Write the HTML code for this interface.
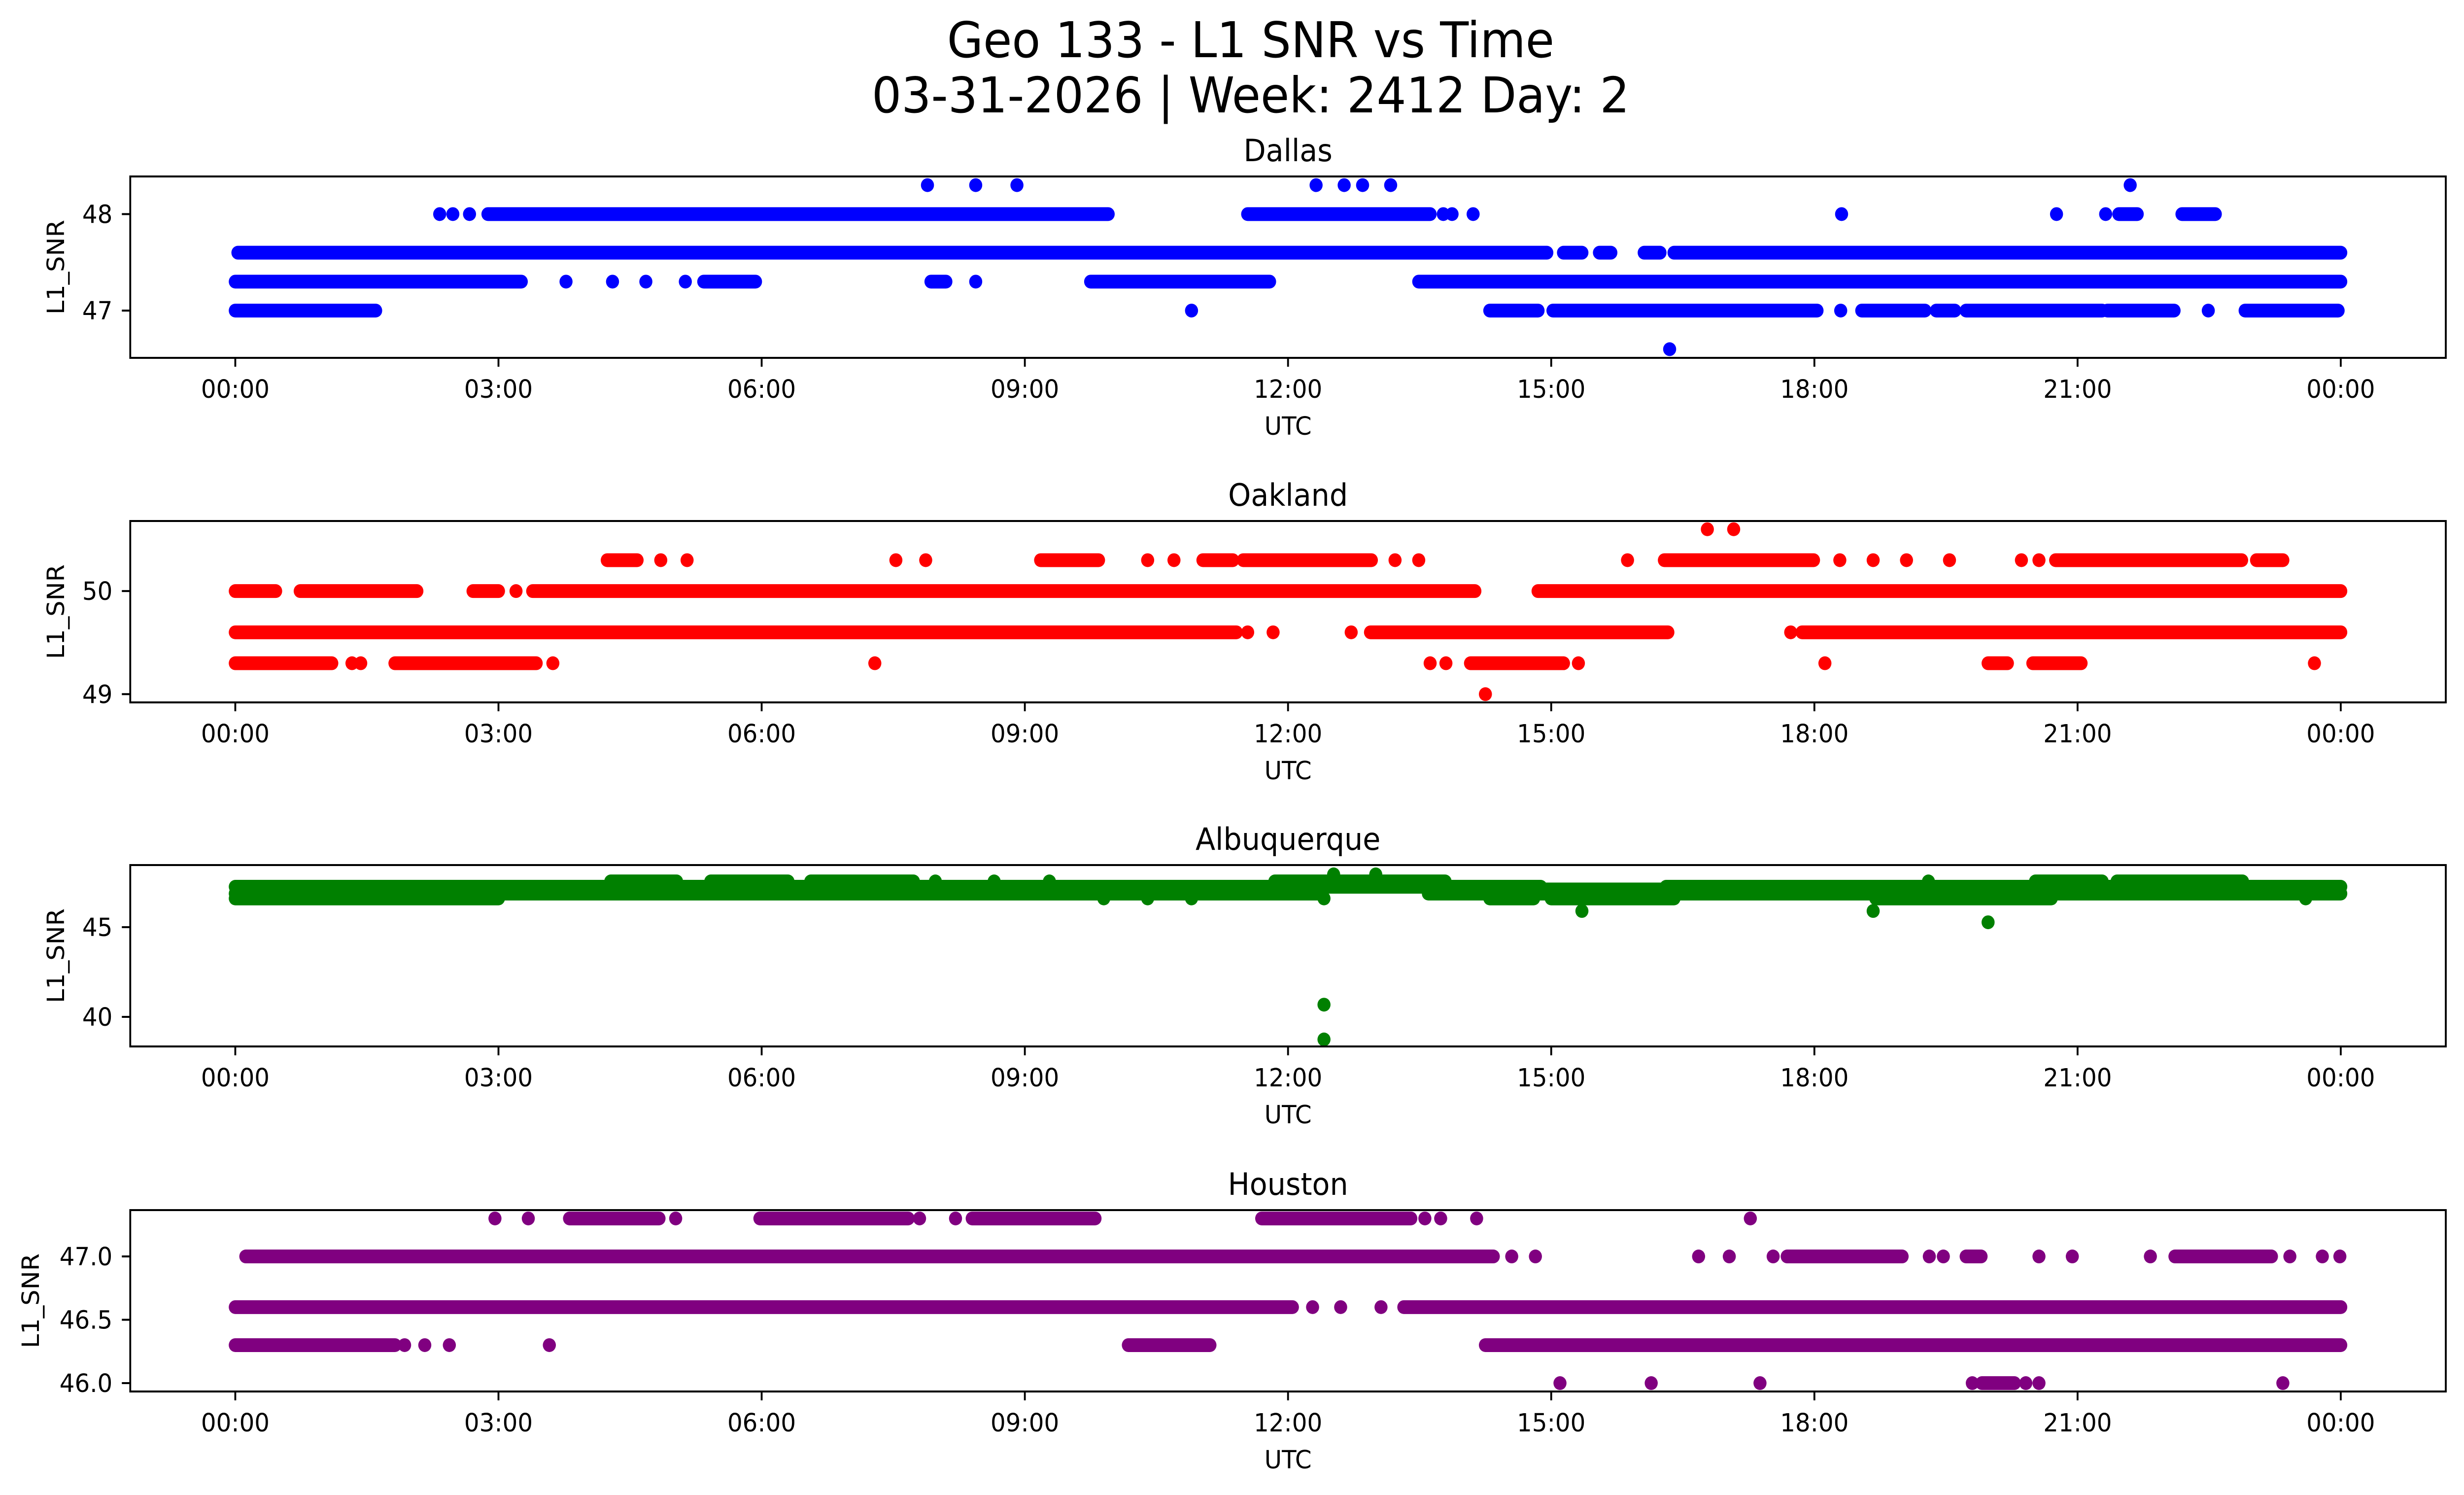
<!DOCTYPE html>
<html><head><meta charset="utf-8"><title>Geo 133 - L1 SNR vs Time</title>
<style>html,body{margin:0;padding:0;background:#fff;width:100%;height:100%;overflow:hidden}svg{display:block;width:100%;height:100%}text{font-family:"DejaVu Sans","Liberation Sans",sans-serif;fill:#000}</style>
</head><body>
<svg id="fig" xmlns="http://www.w3.org/2000/svg" viewBox="0 0 5278 3033" preserveAspectRatio="none">
<rect x="0" y="0" width="5278" height="3033" fill="#fff"/>
<text x="2679" y="116" font-size="100" text-anchor="middle">Geo 133 - L1 SNR vs Time</text>
<text x="2679" y="228" font-size="100" text-anchor="middle">03-31-2026 | Week: 2412 Day: 2</text>
</svg>
<script>
// Time ticks (hours) and labels
const xTickHours = [0, 3, 6, 9, 12, 15, 18, 21, 24];
const xTickLabels = ["00:00","03:00","06:00","09:00","12:00","15:00","18:00","21:00","00:00"];

// Dallas: runs [value, startHour, endHour]; single points have start == end
const dallasRuns = [
 [48.3,7.89,7.89],[48.3,8.44,8.44],[48.3,8.91,8.91],[48.3,12.32,12.32],[48.3,12.64,12.64],[48.3,12.85,12.85],[48.3,13.17,13.17],[48.3,21.6,21.6],
 [48.0,2.33,2.33],[48.0,2.48,2.48],[48.0,2.67,2.67],[48.0,2.88,9.95],[48.0,11.54,13.62],[48.0,13.77,13.77],[48.0,13.87,13.87],[48.0,14.11,14.11],[48.0,18.31,18.31],[48.0,20.76,20.76],[48.0,21.32,21.32],[48.0,21.47,21.68],[48.0,22.19,22.57],
 [47.6,0.03,14.95],[47.6,15.14,15.35],[47.6,15.55,15.68],[47.6,16.06,16.24],[47.6,16.4,24.0],
 [47.3,0.0,3.26],[47.3,3.77,3.77],[47.3,4.30,4.30],[47.3,4.68,4.68],[47.3,5.13,5.13],[47.3,5.34,5.93],[47.3,7.93,8.1],[47.3,8.44,8.44],[47.3,9.75,11.79],[47.3,13.49,24.0],
 [47.0,0.0,1.6],[47.0,10.9,10.9],[47.0,14.3,14.85],[47.0,15.02,18.03],[47.0,18.3,18.3],[47.0,18.54,19.26],[47.0,19.39,19.6],[47.0,19.73,21.28],[47.0,21.34,22.1],[47.0,22.49,22.49],[47.0,22.91,23.97],
 [46.6,16.35,16.35]
];
const dallasTicks = [47, 48];
const dallasTickLabels = ["47","48"];

const oaklandRuns = [
 [50.6,16.78,16.78],[50.6,17.08,17.08],
 [50.3,4.24,4.58],[50.3,4.85,4.85],[50.3,5.15,5.15],[50.3,7.53,7.53],[50.3,7.87,7.87],[50.3,9.18,9.84],[50.3,10.4,10.4],[50.3,10.7,10.7],[50.3,11.03,11.37],[50.3,11.49,12.95],[50.3,13.22,13.22],[50.3,13.49,13.49],[50.3,15.87,15.87],[50.3,16.29,17.99],[50.3,18.29,18.29],[50.3,18.67,18.67],[50.3,19.05,19.05],[50.3,19.54,19.54],[50.3,20.36,20.36],[50.3,20.56,20.56],[50.3,20.75,22.87],[50.3,23.04,23.34],
 [50.0,0.0,0.46],[50.0,0.74,2.07],[50.0,2.71,3.0],[50.0,3.2,3.2],[50.0,3.39,14.13],[50.0,14.85,24.0],
 [49.6,0.0,11.41],[49.6,11.54,11.54],[49.6,11.83,11.83],[49.6,12.72,12.72],[49.6,12.94,16.33],[49.6,17.73,17.73],[49.6,17.86,24.0],
 [49.3,0.0,1.1],[49.3,1.33,1.33],[49.3,1.43,1.43],[49.3,1.82,3.43],[49.3,3.62,3.62],[49.3,7.29,7.29],[49.3,13.62,13.62],[49.3,13.8,13.8],[49.3,14.08,15.14],[49.3,15.31,15.31],[49.3,18.12,18.12],[49.3,19.98,20.2],[49.3,20.49,21.04],[49.3,23.7,23.7],
 [49.0,14.25,14.25]
];
const oaklandTicks = [49, 50];
const oaklandTickLabels = ["49","50"];

const albuquerqueRuns = [
 [47.94,12.52,12.52],[47.94,13.0,13.0],
 [47.55,4.28,5.03],[47.55,5.42,6.3],[47.55,6.56,7.73],[47.55,7.98,7.98],[47.55,8.65,8.65],[47.55,9.28,9.28],[47.55,11.85,13.79],[47.55,19.3,19.3],[47.55,20.52,21.28],[47.55,21.45,22.88],
 [47.25,0.0,14.88],[47.1,14.88,16.31],[47.25,16.31,24.0],
 [46.87,0.0,12.35],[46.87,13.6,24.0],
 [46.6,0.0,3.0],[46.6,9.9,9.9],[46.6,10.4,10.4],[46.6,10.9,10.9],[46.6,12.41,12.41],[46.6,14.3,14.8],[46.6,15.0,16.4],[46.6,18.7,20.7],[46.6,23.6,23.6],
 [45.9,15.35,15.35],[45.9,18.67,18.67],[45.27,19.98,19.98],[40.68,12.41,12.41],[38.74,12.41,12.41]
];
const albuquerqueTicks = [40, 45];
const albuquerqueTickLabels = ["40","45"];

const houstonRuns = [
 [47.3,2.96,2.96],[47.3,3.34,3.34],[47.3,3.81,4.83],[47.3,5.02,5.02],[47.3,5.98,7.67],[47.3,7.8,7.8],[47.3,8.21,8.21],[47.3,8.4,9.8],[47.3,11.7,13.4],[47.3,13.56,13.56],[47.3,13.74,13.74],[47.3,14.15,14.15],[47.3,17.27,17.27],
 [47.0,0.12,14.34],[47.0,14.55,14.55],[47.0,14.82,14.82],[47.0,16.68,16.68],[47.0,17.03,17.03],[47.0,17.53,17.53],[47.0,17.69,19.0],[47.0,19.31,19.31],[47.0,19.47,19.47],[47.0,19.73,19.9],[47.0,20.56,20.56],[47.0,20.94,20.94],[47.0,21.83,21.83],[47.0,22.11,23.21],[47.0,23.42,23.42],[47.0,23.79,23.79],[47.0,23.99,23.99],
 [46.6,0.0,12.05],[46.6,12.28,12.28],[46.6,12.6,12.6],[46.6,13.06,13.06],[46.6,13.32,24.0],
 [46.3,0.0,1.82],[46.3,1.93,1.93],[46.3,2.16,2.16],[46.3,2.44,2.44],[46.3,3.58,3.58],[46.3,10.18,11.11],[46.3,14.25,24.0],
 [46.0,15.1,15.1],[46.0,16.14,16.14],[46.0,17.38,17.38],[46.0,19.8,19.8],[46.0,19.91,20.28],[46.0,20.41,20.41],[46.0,20.56,20.56],[46.0,23.34,23.34]
];
const houstonTicks = [46.0, 46.5, 47.0];
const houstonTickLabels = ["46.0","46.5","47.0"];

const NS = "http://www.w3.org/2000/svg";
const svg = document.getElementById("fig");
const AX_L = 279, AX_R = 5239, AX_H = 368;
const X0 = 504, X24 = 5014;
function xScale(h){ return X0 + (X24 - X0) * h / 24; }
function mk(tag, attrs, parent){ const e = document.createElementNS(NS, tag); for (const k in attrs) e.setAttribute(k, attrs[k]); parent.appendChild(e); return e; }

function drawPanel(key, title, top, yMin, yMax, runs, ticks, tickLabels, color, ylabelX){
  const g = mk("g", {}, svg);
  
  
  const bottom = top + AX_H;
  const yScale = v => bottom - (v - yMin) / (yMax - yMin) * AX_H;
  const clipId = "clip-" + key;
  const cp = mk("clipPath", {id: clipId}, g);
  mk("rect", {x: AX_L, y: top, width: AX_R - AX_L, height: AX_H}, cp);
  const marks = mk("g", {"clip-path": "url(#" + clipId + ")"}, g);
  
  
  runs.forEach(r => {
    const y = yScale(r[0]);
    if (r[1] === r[2]) {
      const c = mk("circle", {cx: xScale(r[1]), cy: y, r: 14, fill: color}, marks);
      
      
    } else {
      const l = mk("line", {x1: xScale(r[1]), x2: xScale(r[2]), y1: y, y2: y, stroke: color, "stroke-width": 28, "stroke-linecap": "round"}, marks);
      
      
    }
  });
  const frame = mk("rect", {x: AX_L, y: top, width: AX_R - AX_L, height: AX_H, fill: "none", stroke: "#000", "stroke-width": 4}, g);
  
  
  xTickHours.forEach((h, i) => {
    const x = xScale(h);
    mk("line", {x1: x, x2: x, y1: bottom, y2: bottom + 18, stroke: "#000", "stroke-width": 4}, g);
    const t = mk("text", {x: x, y: bottom + 81, "font-size": 51, "text-anchor": "middle"}, g);
    t.textContent = xTickLabels[i];
    
    
  });
  ticks.forEach((v, i) => {
    const y = yScale(v);
    mk("line", {x1: AX_L - 18, x2: AX_L, y1: y, y2: y, stroke: "#000", "stroke-width": 4}, g);
    const t = mk("text", {x: 241, y: y + 18, "font-size": 51, "text-anchor": "end"}, g);
    t.textContent = tickLabels[i];
    
    
  });
  const xl = mk("text", {x: (AX_L + AX_R) / 2, y: bottom + 156, "font-size": 51, "text-anchor": "middle"}, g);
  xl.textContent = "UTC";
  
  
  const cy = top + AX_H / 2;
  const yl = mk("text", {x: ylabelX, y: cy, "font-size": 51, "text-anchor": "middle", "dominant-baseline": "central", transform: "rotate(-90 " + ylabelX + " " + cy + ")"}, g);
  yl.textContent = "L1_SNR";
  
  
  const tt = mk("text", {x: (AX_L + AX_R) / 2, y: top - 31, "font-size": 62, "text-anchor": "middle"}, g);
  tt.textContent = title;
  
  
}

drawPanel("dallas", "Dallas", 358, 46.51, 48.39, dallasRuns, dallasTicks, dallasTickLabels, "#0000ff", 120);
drawPanel("oakland", "Oakland", 1057, 48.92, 50.68, oaklandRuns, oaklandTicks, oaklandTickLabels, "#ff0000", 120);
drawPanel("albuquerque", "Albuquerque", 1755, 38.35, 48.46, albuquerqueRuns, albuquerqueTicks, albuquerqueTickLabels, "#008000", 120);
drawPanel("houston", "Houston", 2455, 45.934, 47.366, houstonRuns, houstonTicks, houstonTickLabels, "#800080", 66);
</script>
</body></html>
